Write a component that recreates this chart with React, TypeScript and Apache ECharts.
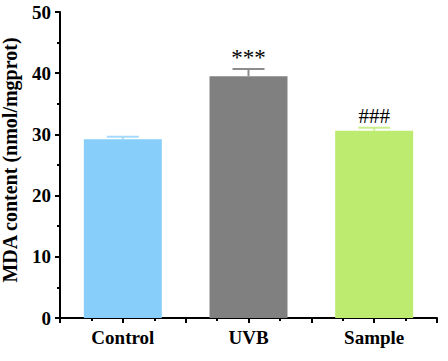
import React, { useEffect, useRef } from "react";
import * as echarts from "echarts";

const categories = ["Control", "UVB", "Sample"];
const values = [29.2, 39.5, 30.6];
const errors = [0.4, 1.2, 0.5];
const marks = ["", "***", "###"];
const yTicks = [0, 10, 20, 30, 40, 50];

const barColors = ["#87CEFA", "#808080", "#BCEB6F"];
const errColors = ["#A6DAFB", "#8C8C8C", "#C9EF8C"];
const FONT = "'Liberation Serif', 'Times New Roman', serif";

export default function App() {
  const ref = useRef<HTMLDivElement>(null);
  useEffect(() => {
    if (!ref.current) return;
    const chart = echarts.init(ref.current, undefined, { renderer: "svg" });
    const axisStyle = { color: "#000", width: 2 };
    chart.setOption({
      animation: false,
      backgroundColor: "#fff",
      grid: {
        left: 60,
        right: 11,
        top: 12,
        bottom: 43,
        containLabel: false,
        outerBoundsMode: "none",
      },
      xAxis: {
        type: "value",
        min: 0,
        max: categories.length,
        interval: 0.5,
        axisLine: { show: true, lineStyle: axisStyle },
        axisTick: { show: true, length: 5, lineStyle: axisStyle },
        minorTick: { show: true, splitNumber: 2, length: 3, lineStyle: axisStyle },
        splitLine: { show: false },
        minorSplitLine: { show: false },
        axisLabel: {
          margin: 10,
          color: "#000",
          fontFamily: FONT,
          fontWeight: "bold",
          fontSize: 19,
          showMinLabel: true,
          showMaxLabel: true,
          formatter: (v: number) => {
            const i = Math.floor(v);
            return Math.abs(v - i - 0.5) < 1e-6 ? categories[i] : "";
          },
        },
      },
      yAxis: {
        type: "value",
        min: yTicks[0],
        max: yTicks[yTicks.length - 1],
        interval: yTicks[1] - yTicks[0],
        name: "MDA content (nmol/mgprot)",
        nameLocation: "middle",
        nameGap: 40,
        nameTextStyle: {
          color: "#000",
          fontFamily: FONT,
          fontWeight: "bold",
          fontSize: 20,
          padding: [0, 0, 0, 10],
        },
        axisLine: { show: true, lineStyle: axisStyle },
        axisTick: { show: true, length: 5, lineStyle: axisStyle },
        minorTick: { show: true, splitNumber: 2, length: 3, lineStyle: axisStyle },
        splitLine: { show: false },
        minorSplitLine: { show: false },
        axisLabel: {
          margin: 9,
          color: "#000",
          fontFamily: FONT,
          fontWeight: "bold",
          fontSize: 19,
        },
      },
      series: [
        {
          type: "bar",
          barWidth: 78,
          data: categories.map((c, i) => ({
            value: [i + 0.5, values[i]],
            itemStyle: { color: barColors[i] },
          })),
          z: 2,
        },
        {
          type: "custom",
          z: 3,
          data: categories.map((c, i) => [i + 0.5, values[i], errors[i], i]),
          renderItem: (params: any, api: any) => {
            const x = api.value(0);
            const v = api.value(1);
            const e = api.value(2);
            const idx = api.value(3);
            const top = api.coord([x, v]);
            const cap = api.coord([x, v + e]);
            const half = 16;
            const col = errColors[idx];
            const mark = marks[idx];
            const isStar = mark.indexOf("*") >= 0;
            const children: any[] = [
              {
                type: "line",
                shape: { x1: top[0], y1: top[1], x2: cap[0], y2: cap[1] },
                style: { stroke: col, lineWidth: 2 },
              },
              {
                type: "line",
                shape: { x1: cap[0] - half, y1: cap[1], x2: cap[0] + half, y2: cap[1] },
                style: { stroke: col, lineWidth: 2 },
              },
            ];
            if (mark) {
              children.push({
                type: "text",
                x: cap[0],
                y: cap[1] - (isStar ? 11 : 12),
                style: {
                  text: mark,
                  fill: "#000",
                  fontFamily: FONT,
                  fontSize: isStar ? 23 : 21,
                  textAlign: "center",
                  textVerticalAlign: "middle",
                },
              });
            }
            return { type: "group", children };
          },
        },
      ],
    });
    return () => chart.dispose();
  }, []);
  return (
    <div
      ref={ref}
      style={{ position: "fixed", left: 0, top: 0, width: 448, height: 361 }}
    />
  );
}
